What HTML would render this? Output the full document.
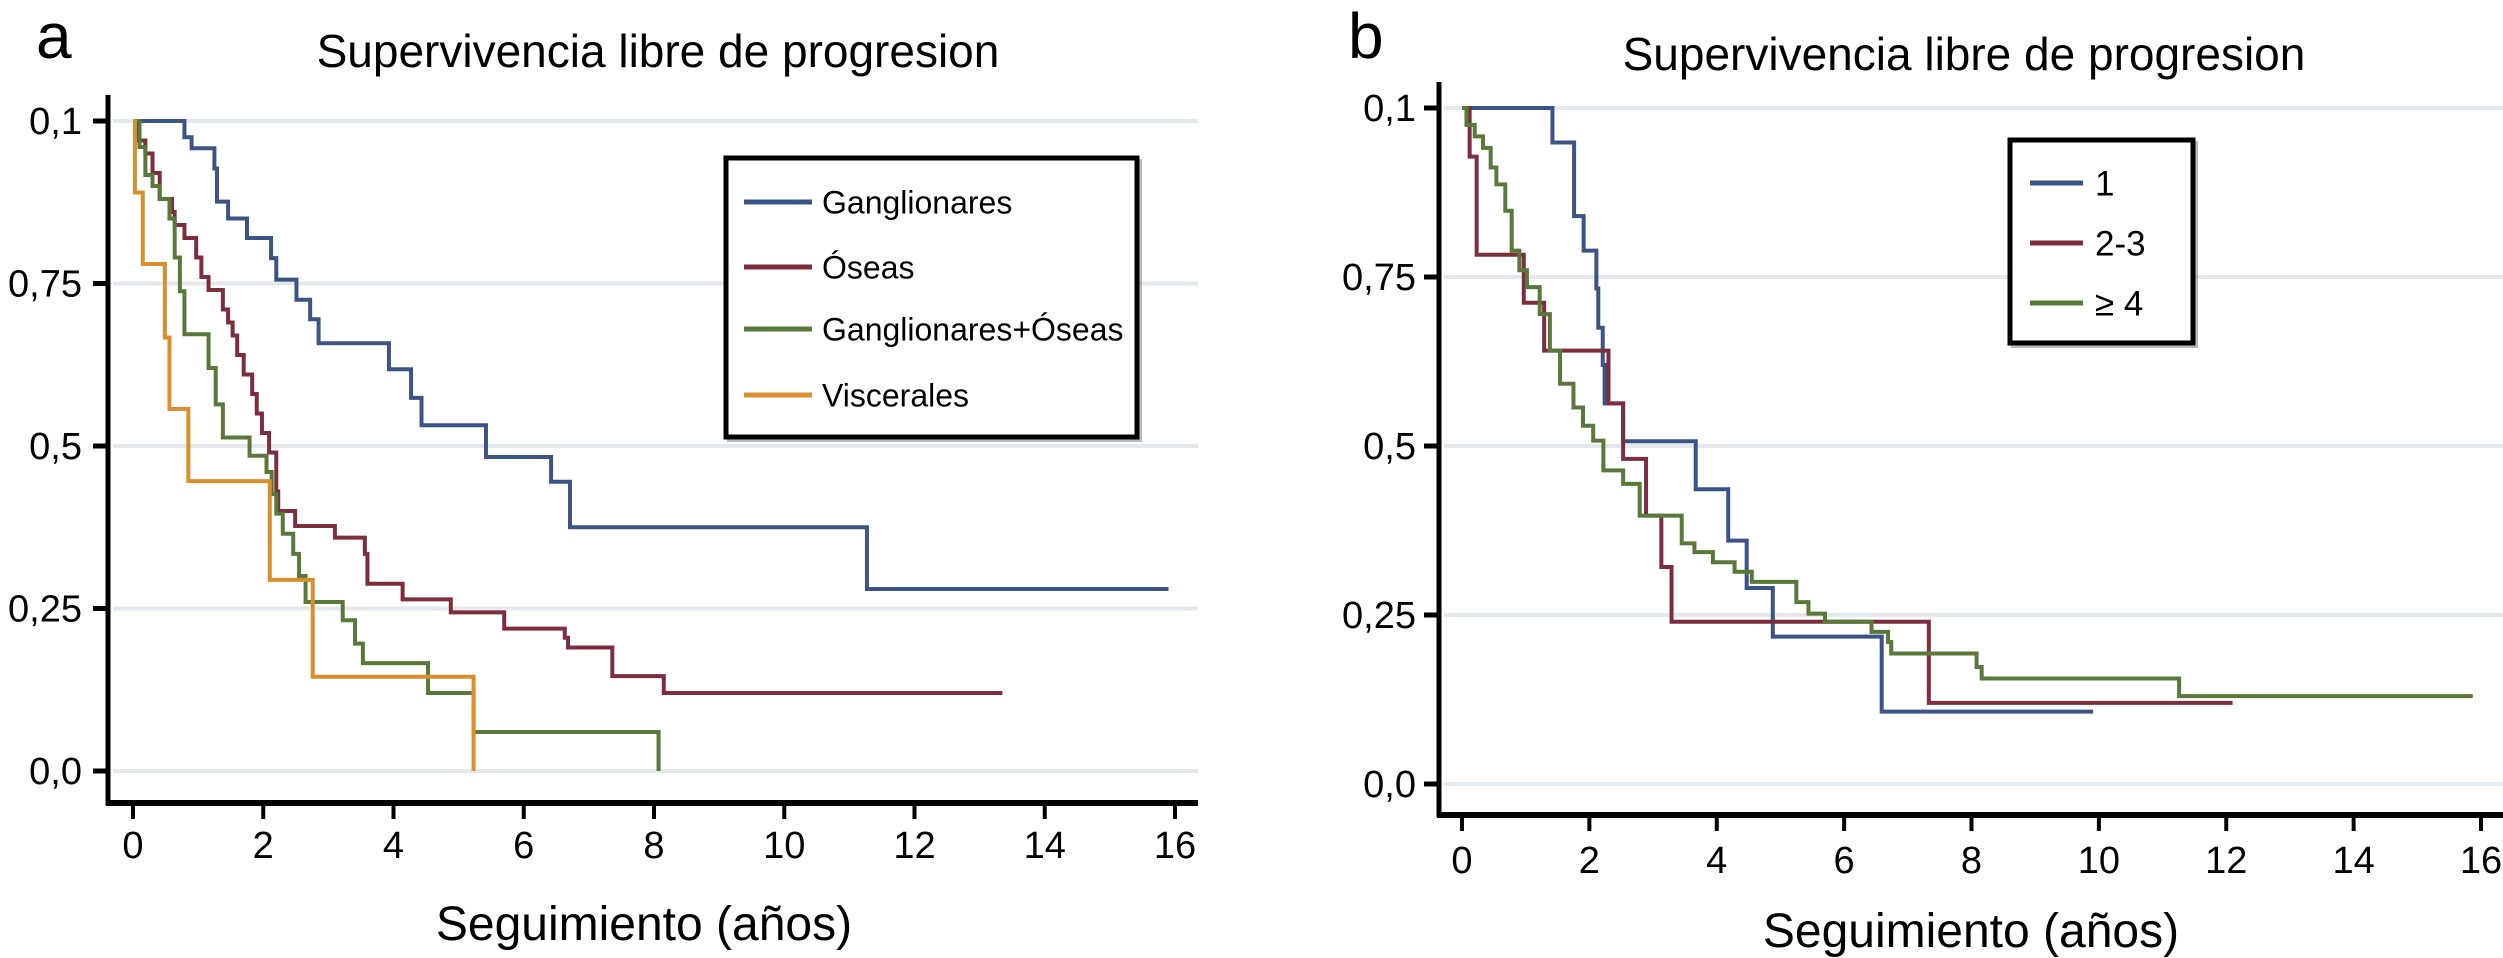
<!DOCTYPE html>
<html><head><meta charset="utf-8">
<style>
html,body{margin:0;padding:0;background:#fff;}
svg{display:block;font-family:"Liberation Sans",Arial,sans-serif;}
</style></head>
<body>
<svg id="fig" width="2503" height="958" viewBox="0 0 2503 958" xmlns="http://www.w3.org/2000/svg">
<rect width="2503" height="958" fill="#fff"/>
<g id="pa"></g>
<g id="pb"></g>
</svg>
<script>
// ---- Panel a data ----
const xTicks = [0,2,4,6,8,10,12,14,16];
const yTicks = [0,0.25,0.5,0.75,1];
const yTickLabels = ["0,0","0,25","0,5","0,75","0,1"];

const aGangT = [0,0.79,0.90,1.25,1.29,1.46,1.75,2.12,2.2,2.51,2.72,2.85,3.93,4.27,4.43,5.42,6.42,6.71,11.27];
const aGangV = [1,0.975,0.958,0.927,0.876,0.85,0.82,0.789,0.756,0.725,0.695,0.658,0.618,0.574,0.532,0.483,0.445,0.375,0.28];
const aGangEnd = 15.9;
const aOseT = [0,0.08,0.19,0.3,0.41,0.6,0.64,0.79,0.97,1.05,1.16,1.38,1.46,1.53,1.6,1.7,1.83,1.9,1.98,2.09,2.2,2.23,2.49,3.1,3.56,3.6,4.14,4.88,5.7,6.63,6.68,7.36,8.15];
const aOseV = [1,0.97,0.95,0.92,0.88,0.86,0.84,0.82,0.79,0.76,0.74,0.71,0.69,0.67,0.64,0.61,0.58,0.55,0.52,0.49,0.43,0.40,0.377,0.359,0.334,0.288,0.264,0.244,0.219,0.205,0.19,0.146,0.12];
const aOseEnd = 13.35;
const aGOT = [0,0.1,0.19,0.3,0.41,0.56,0.64,0.72,0.79,1.16,1.27,1.38,1.79,2.05,2.13,2.2,2.3,2.46,2.55,2.65,3.22,3.41,3.53,4.53,5.23,8.07];
const aGOV = [1,0.96,0.917,0.9,0.88,0.85,0.79,0.738,0.672,0.62,0.564,0.513,0.485,0.46,0.426,0.396,0.365,0.334,0.30,0.26,0.232,0.196,0.166,0.12,0.06,0];
const aGOEnd = 8.07;
const aVisT = [0,0.03,0.15,0.49,0.56,0.85,2.1,2.76,5.23];
const aVisV = [1,0.89,0.78,0.667,0.557,0.446,0.294,0.145,0];
const aVisEnd = 5.23;
const aLabels = ["Ganglionares","Óseas","Ganglionares+Óseas","Viscerales"];

// ---- Panel b data ----
const b1T = [0,1.42,1.76,1.91,2.11,2.14,2.21,2.24,2.53,3.67,4.18,4.47,4.88,6.59];
const b1V = [1,0.949,0.84,0.789,0.733,0.675,0.62,0.563,0.507,0.436,0.36,0.29,0.218,0.107];
const b1End = 9.91;
const b23T = [0,0.12,0.23,0.97,1.29,2.3,2.53,2.89,3.13,3.29,7.33];
const b23V = [1,0.928,0.783,0.712,0.641,0.563,0.481,0.397,0.321,0.24,0.12];
const b23End = 12.1;
const b4T = [0,0.07,0.2,0.33,0.45,0.54,0.68,0.78,0.9,1.02,1.22,1.38,1.54,1.75,1.9,2.06,2.22,2.53,2.79,3.45,3.65,3.94,4.28,4.55,5.25,5.44,5.7,6.43,6.69,6.74,8.08,8.16,11.26];
const b4V = [1,0.975,0.958,0.941,0.912,0.887,0.848,0.789,0.76,0.735,0.695,0.641,0.592,0.557,0.53,0.508,0.464,0.444,0.397,0.356,0.343,0.328,0.314,0.299,0.269,0.252,0.24,0.225,0.21,0.193,0.173,0.156,0.13];
const b4End = 15.87;
const bLabels = ["1","2-3","\u2265 4"];

const NS = "http://www.w3.org/2000/svg";
const COL = {blue:"#3b5485", red:"#7d2e3d", green:"#58793a", orange:"#d98f2e"};

function mk(parent, tag, attrs, text){
  const e = document.createElementNS(NS, tag);
  for (const k in attrs) e.setAttribute(k, attrs[k]);
  if (text !== undefined) e.textContent = text;
  parent.appendChild(e);
  return e;
}

function drawPanel(g, cfg){
  const sx = t => cfg.x0 + t*(cfg.x16-cfg.x0)/16;
  const sy = v => cfg.y0 - v*(cfg.y0-cfg.y1);
  yTicks.forEach((v,i)=>{
    const l = mk(g,"line",{x1:cfg.axX+5,x2:cfg.gridEnd,y1:sy(v),y2:sy(v),stroke:"#e4e9ed","stroke-width":4});
    
    
  });
  cfg.series.forEach(s=>{
    let d = "M"+sx(s.t[0])+" "+sy(s.v[0]);
    for (let i=1;i<s.t.length;i++){ d += " H"+sx(s.t[i])+" V"+sy(s.v[i]); }
    d += " H"+sx(s.end);
    const p = mk(g,"path",{d:d,fill:"none",stroke:s.col,"stroke-width":4,"stroke-linejoin":"miter"});
    
    
  });
  const ya = mk(g,"line",{x1:cfg.axX,x2:cfg.axX,y1:cfg.axTop,y2:cfg.axY+2,stroke:"#000","stroke-width":5});
  
  
  const xa = mk(g,"line",{x1:cfg.axX-2,x2:cfg.axRight,y1:cfg.axY,y2:cfg.axY,stroke:"#000","stroke-width":6});
  
  
  yTicks.forEach((v,i)=>{
    const tk = mk(g,"line",{x1:cfg.axX-15,x2:cfg.axX,y1:sy(v),y2:sy(v),stroke:"#000","stroke-width":5});
    
    
    const tl = mk(g,"text",{x:cfg.yLabRight,y:sy(v)+13,"text-anchor":"end","font-size":38,fill:"#000"},yTickLabels[i]);
    
    
  });
  xTicks.forEach(t=>{
    const tk = mk(g,"line",{x1:sx(t),x2:sx(t),y1:cfg.axY,y2:cfg.axY+16,stroke:"#000","stroke-width":4});
    
    
    const tl = mk(g,"text",{x:sx(t),y:cfg.xLabBase,"text-anchor":"middle","font-size":38,fill:"#000"},String(t));
    
    
  });
  const xt = mk(g,"text",{x:cfg.xTitleX,y:cfg.xTitleY,"text-anchor":"middle","font-size":48,fill:"#000"},"Seguimiento (años)");
  
  
  const tt = mk(g,"text",{x:cfg.titleX,y:cfg.titleY,"text-anchor":"middle","font-size":46,fill:"#000"},"Supervivencia libre de progresion");
  
  
  const pl = mk(g,"text",{x:cfg.letterX,y:cfg.letterY,"font-size":64,fill:"#000"},cfg.letter);
  
  
  const L = cfg.legend;
  const lg = mk(g,"g",{});
  
  
  mk(lg,"rect",{x:L.x+3,y:L.y+3,width:L.w,height:L.h,fill:"none",stroke:"#555","stroke-width":4,opacity:0.4});
  mk(lg,"rect",{x:L.x,y:L.y,width:L.w,height:L.h,fill:"#fff",stroke:"#000","stroke-width":5});
  cfg.series.forEach((s,i)=>{
    const yy = L.rows[i];
    const ln = mk(lg,"line",{x1:L.lx1,x2:L.lx2,y1:yy,y2:yy,stroke:s.col,"stroke-width":5});
    
    
    const tx = mk(lg,"text",{x:L.tx,y:yy+L.fs*0.36,"font-size":L.fs,fill:"#000"},cfg.labels[i]);
    
    
  });
}

drawPanel(document.getElementById("pa"),{
  x0:133, x16:1175, y0:771, y1:121,
  axX:108, axTop:95, axY:803, axRight:1198, gridEnd:1198,
  yLabRight:82, xLabBase:858, xTitleX:644, xTitleY:940,
  titleX:658, titleY:67, letter:"a", letterX:36, letterY:58,
  labels:aLabels,
  series:[
    {t:aGangT,v:aGangV,end:aGangEnd,col:COL.blue,name:"ganglionares-curve"},
    {t:aOseT,v:aOseV,end:aOseEnd,col:COL.red,name:"oseas-curve"},
    {t:aGOT,v:aGOV,end:aGOEnd,col:COL.green,name:"ganglionares-oseas-curve"},
    {t:aVisT,v:aVisV,end:aVisEnd,col:COL.orange,name:"viscerales-curve"}
  ],
  legend:{x:726,y:158,w:411,h:279,lx1:744,lx2:812,tx:822,fs:32,rows:[202,267,329,395]}
});

drawPanel(document.getElementById("pb"),{
  x0:1462, x16:2481, y0:784, y1:108,
  axX:1439, axTop:82, axY:815, axRight:2503, gridEnd:2503,
  yLabRight:1416, xLabBase:873, xTitleX:1971, xTitleY:947,
  titleX:1964, titleY:70, letter:"b", letterX:1348, letterY:58,
  labels:bLabels,
  series:[
    {t:b1T,v:b1V,end:b1End,col:COL.blue,name:"group-1-curve"},
    {t:b23T,v:b23V,end:b23End,col:COL.red,name:"group-2-3-curve"},
    {t:b4T,v:b4V,end:b4End,col:COL.green,name:"group-4plus-curve"}
  ],
  legend:{x:2010,y:140,w:183,h:203,lx1:2030,lx2:2083,tx:2095,fs:35,rows:[183,243,303]}
});
</script>
</body></html>
